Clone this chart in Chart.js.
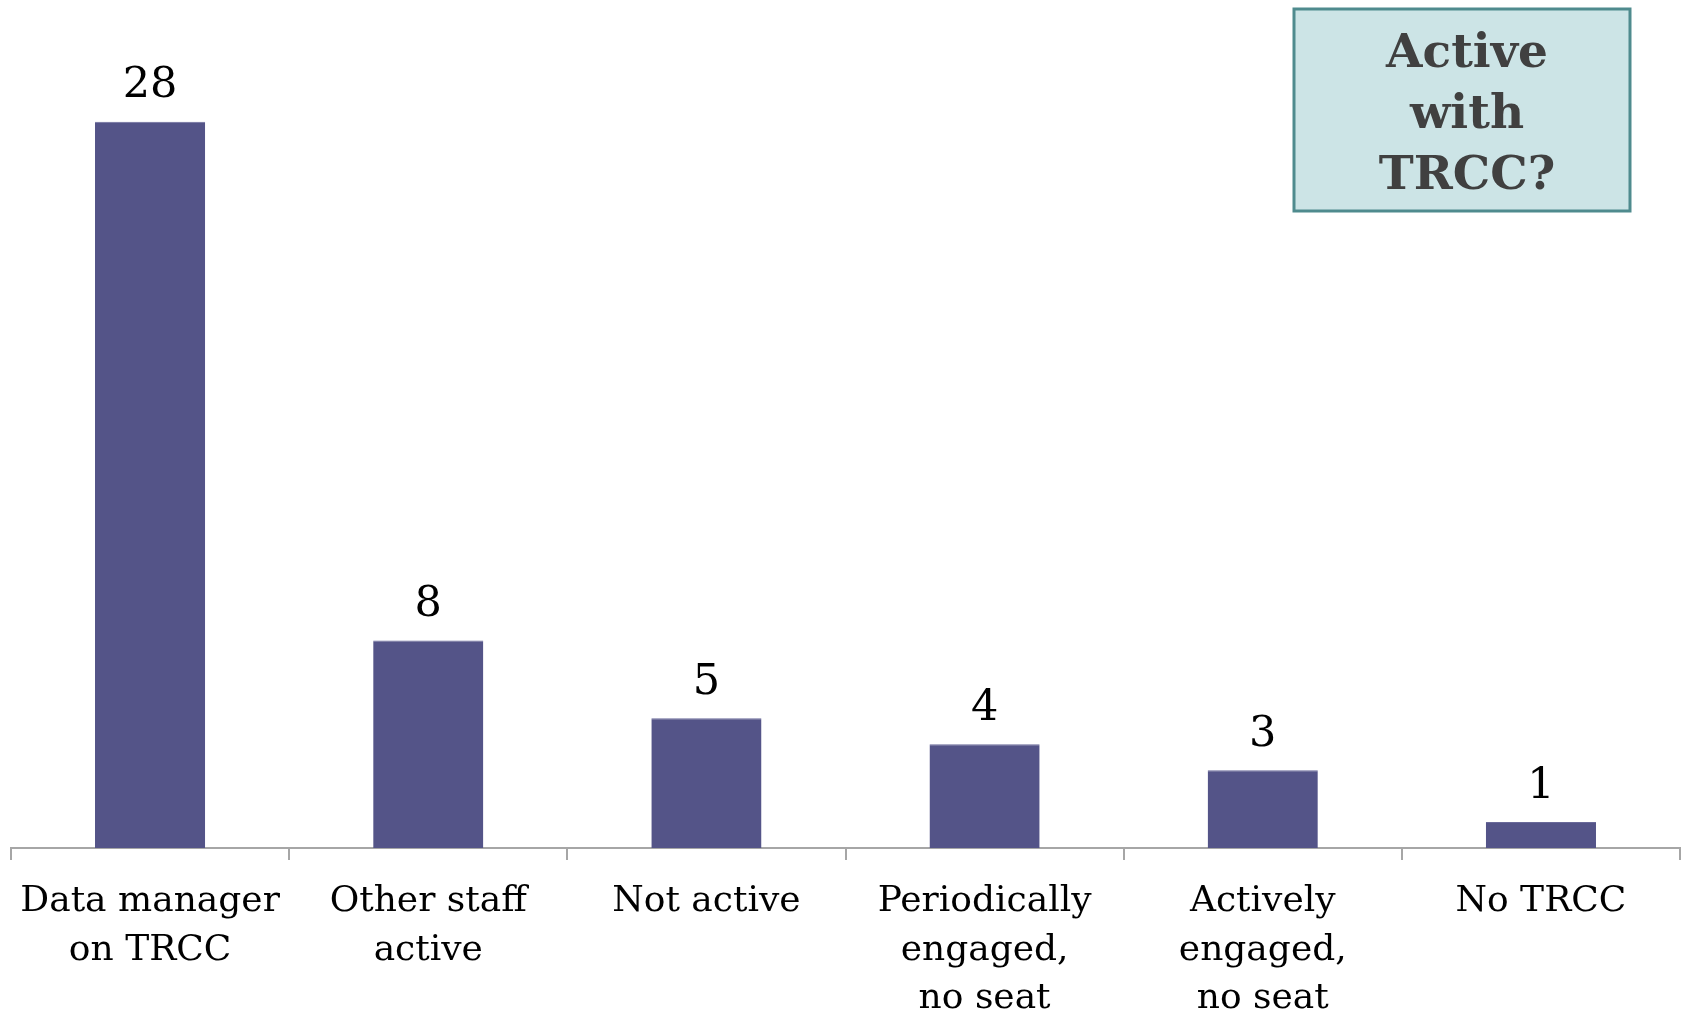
<!DOCTYPE html>
<html>
<head>
<meta charset="utf-8">
<script src="https://cdn.jsdelivr.net/npm/chart.js@4"></script>
<style>
    html, body { margin: 0; padding: 0; background: #ffffff; }
    #wrap { width: 1685px; height: 1014px; position: relative; }
</style>
</head>
<body>
<div id="wrap"><canvas id="trccChart"></canvas></div>
<script>
const categories = [
    ['Data manager', 'on TRCC'],
    ['Other staff', 'active'],
    ['Not active'],
    ['Periodically', 'engaged,', 'no seat'],
    ['Actively', 'engaged,', 'no seat'],
    ['No TRCC']
];
const counts = [28, 8, 5, 4, 3, 1];
const boxLines = ['Active', 'with', 'TRCC?'];

const serif = '"DejaVu Serif", "Liberation Serif", serif';

// numbers above each bar
const valueLabels = {
    id: 'valueLabels',
    afterDatasetsDraw(chart) {
        const ctx = chart.ctx;
        const meta = chart.getDatasetMeta(0);
        ctx.save();
        ctx.font = '43px ' + serif;
        ctx.fillStyle = '#000000';
        ctx.textAlign = 'center';
        ctx.textBaseline = 'bottom';
        meta.data.forEach((bar, i) => {
            ctx.fillText(String(counts[i]), bar.x, bar.y - 14);
        });
        ctx.restore();
    }
};

// the "Active with TRCC?" box at top right
const titleBox = {
    id: 'titleBox',
    afterDraw(chart) {
        const ctx = chart.ctx;
        const x = 1294, y = 9, w = 336, h = 202;
        ctx.save();
        ctx.fillStyle = '#cce4e6';
        ctx.fillRect(x, y, w, h);
        ctx.strokeStyle = '#4f8b8e';
        ctx.lineWidth = 3;
        ctx.strokeRect(x, y, w, h);
        ctx.font = 'bold 47px ' + serif;
        ctx.fillStyle = '#404040';
        ctx.textAlign = 'center';
        ctx.textBaseline = 'middle';
        boxLines.forEach((line, i) => {
            ctx.fillText(line, x + w / 2 + 5, 55 + i * 61);
        });
        ctx.restore();
    }
};

function getChartData() {
    return {
        labels: categories,
        datasets: [
            {
                label: 'Active with TRCC?',
                backgroundColor: '#545488',
                borderColor: '#6a6a9a',
                borderWidth: {top: 1, left: 0, right: 0, bottom: 0},
                data: counts,
                categoryPercentage: 1,
                barPercentage: 0.396
            }
        ]
    };
}

function getConfig() {
    return {
        type: 'bar',
        data: getChartData(),
        options: {
            responsive: true,
            maintainAspectRatio: false,
            animation: false,
            layout: {padding: {top: 18, left: 11, right: 5, bottom: 0}},
            plugins: {
                legend: {display: false},
                tooltip: {enabled: false}
            },
            scales: {
                x: {
                    grid: {
                        offset: true,
                        drawOnChartArea: false,
                        drawTicks: true,
                        tickLength: 12,
                        color: '#a6a6a6',
                        lineWidth: 2
                    },
                    border: {display: true, color: '#a6a6a6', width: 2},
                    ticks: {
                        color: '#000000',
                        padding: 18,
                        maxRotation: 0,
                        autoSkip: false,
                        font: {family: serif, size: 36, lineHeight: 1.34}
                    },
                    afterFit(scale) {
                        scale.height = 166;
                    }
                },
                y: {
                    display: false,
                    min: 0,
                    max: 32
                }
            }
        },
        plugins: [valueLabels, titleBox]
    };
}

function drawChart(elementId) {
    return new Chart(document.getElementById(elementId), getConfig());
}

drawChart('trccChart');
</script>
</body>
</html>
